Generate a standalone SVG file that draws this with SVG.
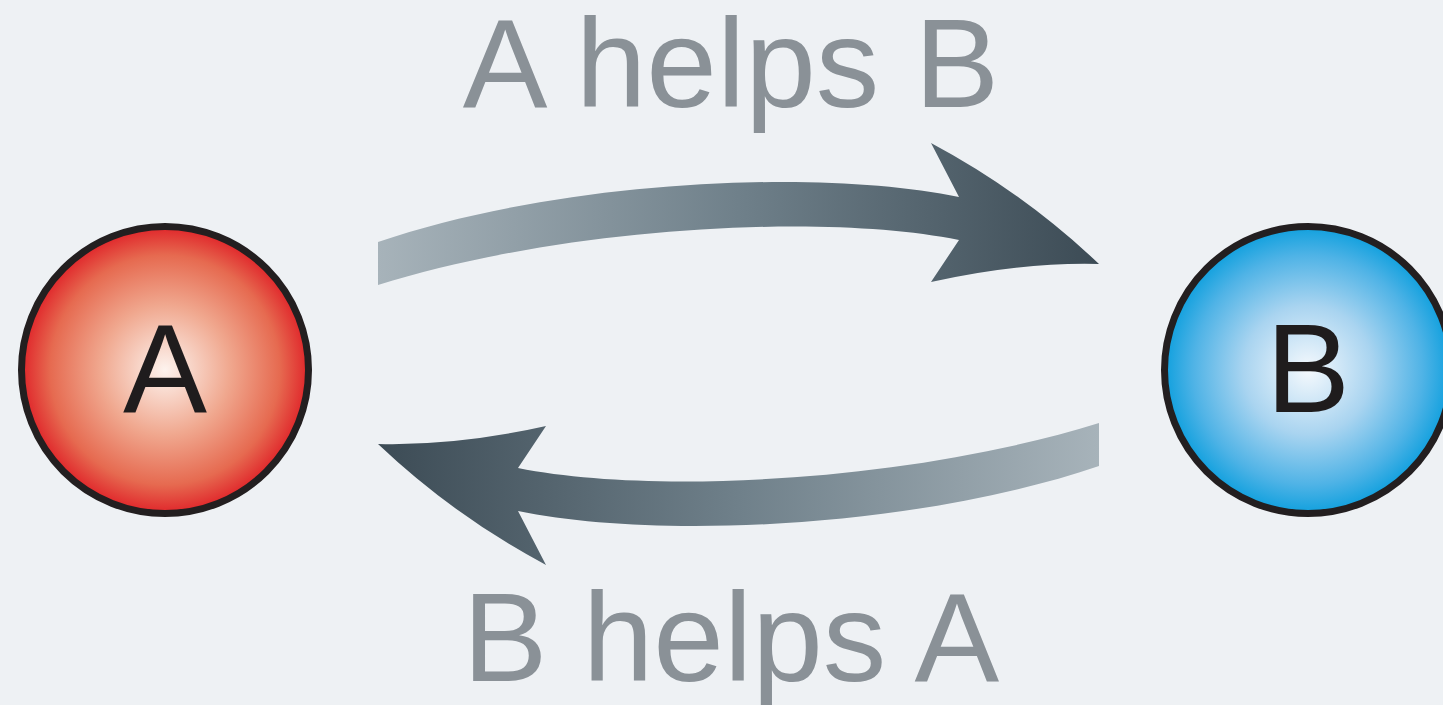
<svg xmlns="http://www.w3.org/2000/svg" width="1443" height="705" viewBox="0 0 1443 705">
  <defs>
    <radialGradient id="gradA" cx="0.5" cy="0.5" r="0.5">
      <stop offset="0" stop-color="#fdf3ee"/>
      <stop offset="0.45" stop-color="#f0a88f"/>
      <stop offset="0.8" stop-color="#e66a50"/>
      <stop offset="1" stop-color="#e0252a"/>
    </radialGradient>
    <radialGradient id="gradB" cx="0.5" cy="0.5" r="0.5">
      <stop offset="0" stop-color="#f5f9fd"/>
      <stop offset="0.45" stop-color="#a9d4f0"/>
      <stop offset="0.8" stop-color="#4fb3e6"/>
      <stop offset="1" stop-color="#10a0de"/>
    </radialGradient>
    <linearGradient id="arrowGrad" gradientUnits="userSpaceOnUse" x1="378" y1="0" x2="1099" y2="0">
      <stop offset="0" stop-color="#a7b3ba"/>
      <stop offset="0.5" stop-color="#6f808a"/>
      <stop offset="1" stop-color="#3c4b55"/>
    </linearGradient>
    <style>
      .node-circle { stroke: #231f20; stroke-width: 7; }
      .node-label { font-family: "Liberation Sans", Arial, sans-serif; font-size: 126px; fill: #1f1c1d; text-anchor: middle; }
      .edge-label { font-family: "Liberation Sans", Arial, sans-serif; font-size: 127px; fill: #8a9197; text-anchor: middle; }
      .arrow { fill: url(#arrowGrad); }
    </style>
  </defs>

  <rect x="0" y="0" width="1443" height="705" fill="#eef1f4"/>

  <g id="connectors">
    <path id="edge-a-b" class="arrow" d="M 378 242 C 560 180, 820 168, 959 197 L 931 143 Q 1023 192, 1099 264 Q 1020 262, 931 282 L 959 240 C 820 212, 560 228, 378 285 Z"/>
    <path id="edge-b-a" class="arrow" transform="rotate(180 738.5 354)" d="M 378 242 C 560 180, 820 168, 959 197 L 931 143 Q 1023 192, 1099 264 Q 1020 262, 931 282 L 959 240 C 820 212, 560 228, 378 285 Z"/>
    <text class="edge-label" x="731" y="107">A helps B</text>
    <text class="edge-label" x="731" y="681">B helps A</text>
  </g>

  <g id="node-a">
    <circle class="node-circle" cx="165" cy="370" r="143.5" fill="url(#gradA)"/>
    <text class="node-label" x="165" y="412">A</text>
  </g>

  <g id="node-b">
    <circle class="node-circle" cx="1308" cy="370" r="143.5" fill="url(#gradB)"/>
    <text class="node-label" x="1308" y="412">B</text>
  </g>
</svg>
